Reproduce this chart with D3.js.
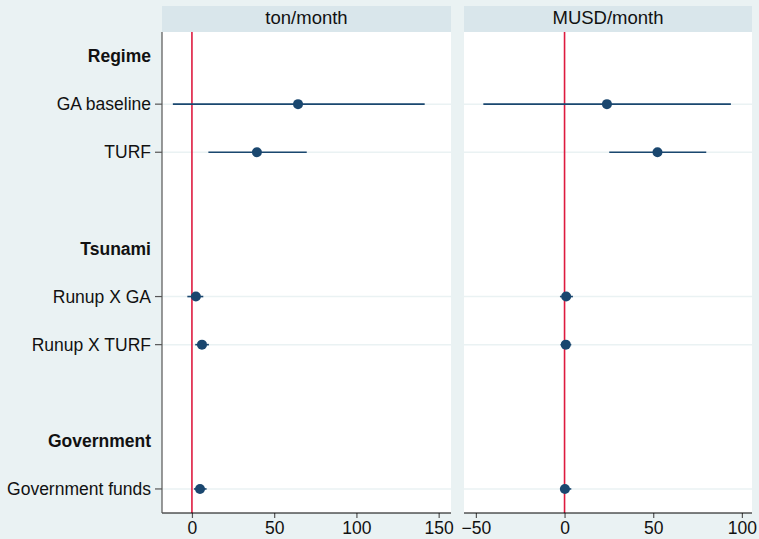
<!DOCTYPE html>
<html>
<head>
<meta charset="utf-8">
<script src="https://cdn.jsdelivr.net/npm/d3@7"></script>
<style>
	body { margin: 0; background: #eaf2f3; }
	text { font-family: "Liberation Sans", Arial, sans-serif; fill: #111; }
</style>
</head>
<body>
<div id="chart"></div>
<script>
// row labels, top to bottom ('' = spacer row)
const rowLabels = ['Regime', 'GA baseline', 'TURF', '', 'Tsunami', 'Runup X GA', 'Runup X TURF', '', 'Government', 'Government funds'];
const headerRows = ['Regime', 'Tsunami', 'Government'];
const terms = ['GA baseline', 'TURF', 'Runup X GA', 'Runup X TURF', 'Government funds'];

// panel titles and axis ticks
const panelTitles = ['ton/month', 'MUSD/month'];
const tonTicks = [0, 50, 100, 150];
const usdTicks = [-50, 0, 50, 100];

// estimates and 95% intervals, per term
const tonEst = [64.5, 39.5, 2.4, 6.1, 4.9];
const tonLo = [-11.6, 10.0, -2.8, 2.0, 1.2];
const tonHi = [141.5, 69.8, 6.9, 10.3, 8.9];
const usdEst = [23.9, 52.4, 0.9, 0.7, 0.2];
const usdLo = [-45.8, 25.2, -2.6, -2.3, -2.6];
const usdHi = [93.8, 79.9, 4.7, 3.8, 3.8];

(() => {
	const width = 759;
	const height = 539;
	const top = 32, bottom = 513;
	const navy = '#1a476f';
	const zeroColor = '#de1a3f';

	const svg = d3.select('#chart').append('svg')
		.attr('width', width)
		.attr('height', height);

	svg.append('rect')
		.attr('width', width)
		.attr('height', height)
		.attr('fill', '#eaf2f3');

	const y = d3.scaleLinear()
		.domain([-0.5, rowLabels.length - 0.5])
		.range([top, bottom]);

	const panels = [
		{ title: panelTitles[0], x0: 162, x1: 451, domain: [-18.2, 157.5], ticks: tonTicks, est: tonEst, lo: tonLo, hi: tonHi, yAxis: true },
		{ title: panelTitles[1], x0: 464, x1: 752, domain: [-56.7, 105.7], ticks: usdTicks, est: usdEst, lo: usdLo, hi: usdHi, yAxis: false }
	];

	panels.forEach(p => {
		const x = d3.scaleLinear()
			.domain(p.domain)
			.range([p.x0, p.x1]);
		const g = svg.append('g');

		// header strip
		g.append('rect')
			.attr('x', p.x0)
			.attr('y', 6)
			.attr('width', p.x1 - p.x0)
			.attr('height', top - 6)
			.attr('fill', '#d9e6eb');
		g.append('text')
			.attr('x', (p.x0 + p.x1) / 2)
			.attr('y', 18)
			.attr('dy', '0.35em')
			.attr('text-anchor', 'middle')
			.style('font-size', '18.5px')
			.text(p.title);

		// plot region
		g.append('rect')
			.attr('x', p.x0)
			.attr('y', top)
			.attr('width', p.x1 - p.x0)
			.attr('height', bottom - top)
			.attr('fill', '#fff');

		// grid lines on coefficient rows
		g.selectAll('.grid')
			.data(terms)
			.enter().append('line')
				.attr('class', 'grid')
				.attr('x1', p.x0)
				.attr('x2', p.x1)
				.attr('y1', d => y(rowLabels.indexOf(d)))
				.attr('y2', d => y(rowLabels.indexOf(d)))
				.attr('stroke', '#eaf2f3')
				.attr('stroke-width', 1.5);

		// zero reference line
		g.append('line')
			.attr('x1', x(0))
			.attr('x2', x(0))
			.attr('y1', top)
			.attr('y2', bottom)
			.attr('stroke', zeroColor)
			.attr('stroke-width', 1.6);

		// confidence intervals
		g.selectAll('.ci')
			.data(terms)
			.enter().append('line')
				.attr('class', 'ci')
				.attr('x1', (d, i) => x(p.lo[i]))
				.attr('x2', (d, i) => x(p.hi[i]))
				.attr('y1', d => y(rowLabels.indexOf(d)))
				.attr('y2', d => y(rowLabels.indexOf(d)))
				.attr('stroke', navy)
				.attr('stroke-width', 1.6);

		// point estimates
		g.selectAll('.pt')
			.data(terms)
			.enter().append('circle')
				.attr('class', 'pt')
				.attr('cx', (d, i) => x(p.est[i]))
				.attr('cy', d => y(rowLabels.indexOf(d)))
				.attr('r', 5)
				.attr('fill', navy);

		// bottom axis
		const xAxis = d3.axisBottom(x)
			.tickValues(p.ticks)
			.tickSize(5)
			.tickPadding(4);
		const ax = g.append('g')
			.attr('transform', `translate(0, ${bottom})`)
			.call(xAxis);
		ax.select('.domain').remove();
		ax.append('line')
			.attr('x1', p.x0)
			.attr('x2', p.x1)
			.attr('stroke', '#000')
			.attr('stroke-width', 1.2);
		ax.selectAll('.tick line').attr('stroke', '#555').attr('stroke-width', 1.2);
		ax.selectAll('.tick text')
			.style('font-size', '17.5px')
			.style('font-family', '"Liberation Sans", Arial, sans-serif')
			.attr('fill', '#111');

		if (p.yAxis) {
			g.append('line')
				.attr('x1', p.x0)
				.attr('x2', p.x0)
				.attr('y1', top)
				.attr('y2', bottom)
				.attr('stroke', '#555')
				.attr('stroke-width', 1.2);
			g.selectAll('.ytick')
				.data(terms)
				.enter().append('line')
					.attr('class', 'ytick')
					.attr('x1', p.x0 - 7)
					.attr('x2', p.x0)
					.attr('y1', d => y(rowLabels.indexOf(d)))
					.attr('y2', d => y(rowLabels.indexOf(d)))
					.attr('stroke', '#555')
					.attr('stroke-width', 1.2);
			g.selectAll('.ylab')
				.data(rowLabels.filter(d => d !== ''))
				.enter().append('text')
					.attr('class', 'ylab')
					.attr('x', p.x0 - 11)
					.attr('y', d => y(rowLabels.indexOf(d)))
					.attr('dy', '0.35em')
					.attr('text-anchor', 'end')
					.style('font-size', '17.5px')
					.style('font-weight', d => headerRows.includes(d) ? 'bold' : 'normal')
					.text(d => d);
		}
	});
})();
</script>
</body>
</html>
